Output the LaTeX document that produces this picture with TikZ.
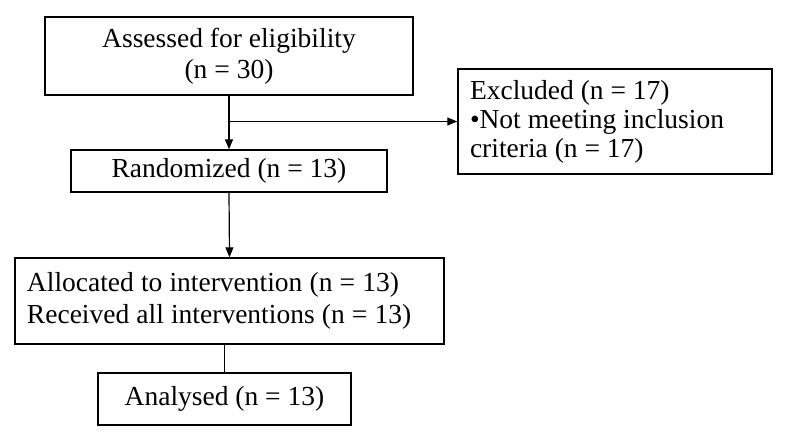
\documentclass[tikz,border=0pt]{standalone}
\usepackage{fontspec}
\setmainfont{Liberation Serif}
\usetikzlibrary{arrows.meta}
\begin{document}
\begin{tikzpicture}[x=1pt,y=-1pt,
  box/.style={draw, line width=1.4pt, inner sep=0pt, font=\fontsize{27.5}{31}\selectfont},
  arr/.style={line width=1.2pt, -{Triangle[length=10pt,width=8pt]}},
  ln/.style={line width=1.2pt}]
\useasboundingbox (0,0) rectangle (786,440);
\node[box, minimum width=368pt, minimum height=78pt, align=center] (assess) at (229,56) {Assessed for eligibility\\(n = 30)};
\node[box, minimum width=316pt, minimum height=42pt] (rand) at (229,171) {Randomized (n = 13)};
\node[box, minimum width=314pt, minimum height=105pt, text width=290pt, align=left, font=\fontsize{27.5}{29}\selectfont] (excl) at (615,121.5) {\spaceskip=0.25em\relax Excluded (n = 17)\\•Not meeting inclusion\\criteria (n = 17)};
\node[box, minimum width=429pt, minimum height=86pt, text width=405pt, align=left, font=\fontsize{27.5}{32}\selectfont] (alloc) at (229.5,301) {\spaceskip=0.26em\relax Allocated to intervention (n = 13)\\Received all interventions (n = 13)};
\node[box, minimum width=253pt, minimum height=52pt] (anal) at (224.5,399) {Analysed (n = 13)};
\coordinate (branch) at (229,121.5);
\draw[arr] (assess.south) -- (rand.north);
\draw[arr] (branch) -- (excl.west);
\draw[arr] (rand.south) -- (alloc.north);
\draw[ln] (anal.north |- alloc.south) -- (anal.north);
\end{tikzpicture}
\end{document}
